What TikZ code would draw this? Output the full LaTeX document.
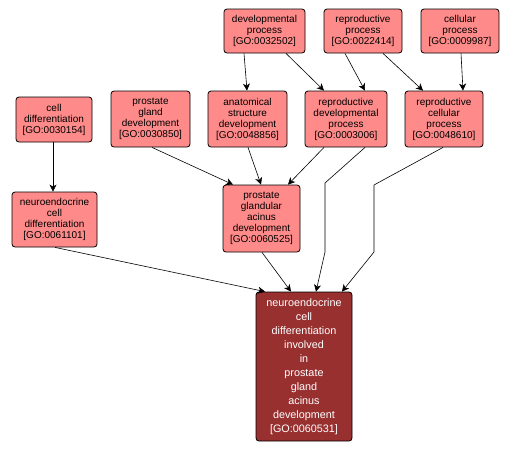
\documentclass[tikz,border=0pt]{standalone}
\usepackage{fontspec}
\setmainfont{Liberation Sans}
\usepackage{tikz}
\usetikzlibrary{arrows.meta}
\definecolor{golight}{RGB}{255,138,138}
\definecolor{godark}{RGB}{153,48,48}
\tikzset{
  term/.style     ={draw=black, rectangle, rounded corners=3pt, align=center, fill=golight, inner sep=0pt, line width=0.8pt, font=\fontsize{10}{11}\selectfont},
  rootterm/.style ={draw=black, rectangle, rounded corners=3pt, align=center, fill=godark, text=white, inner sep=0pt, line width=0.8pt, font=\fontsize{10.8}{14}\selectfont},
  arr/.style      ={-{Stealth[length=7pt,width=7pt,inset=2pt]}, line width=0.6pt},
}

\begin{document}
\begin{tikzpicture}[x=1pt, y=-1pt]
  \useasboundingbox (0,0) rectangle (511,451);

  % top row
  \node[term, minimum width=81, minimum height=44] (dev)   at (264.5,31) {developmental\\process\\{}[GO:0032502]};
  \node[term, minimum width=78, minimum height=44] (repro) at (363,31)   {reproductive\\process\\{}[GO:0022414]};
  \node[term, minimum width=78, minimum height=44] (cellp) at (460,31)   {cellular\\process\\{}[GO:0009987]};

  % second row
  \node[term, minimum width=76, minimum height=45] (celldiff) at (54,119.5) {cell\\differentiation\\{}[GO:0030154]};
  \node[term, minimum width=79, minimum height=56] (pgd) at (150.5,119) {prostate\\gland\\development\\{}[GO:0030850]};
  \node[term, minimum width=79, minimum height=56] (asd) at (247.5,119) {anatomical\\structure\\development\\{}[GO:0048856]};
  \node[term, minimum width=82, minimum height=56] (rdp) at (346,119)   {reproductive\\developmental\\process\\{}[GO:0003006]};
  \node[term, minimum width=78, minimum height=56] (rcp) at (444,119)   {reproductive\\cellular\\process\\{}[GO:0048610]};

  % third row
  \node[term, minimum width=85, minimum height=55] (necd) at (54.5,219.5)  {neuroendocrine\\cell\\differentiation\\{}[GO:0061101]};
  \node[term, minimum width=77, minimum height=67] (pgad) at (261.5,218.5) {prostate\\glandular\\acinus\\development\\{}[GO:0060525]};

  % root term
  \node[rootterm, minimum width=96, minimum height=149] (main) at (304,366.5)
    {neuroendocrine\\cell\\differentiation\\involved\\in\\prostate\\gland\\acinus\\development\\{}[GO:0060531]};

  % bends
  \coordinate (bendA1) at (325,183);
  \coordinate (bendA2) at (325,252);
  \coordinate (bendB1) at (374,185);
  \coordinate (bendB2) at (374,252);

  % edges
  \draw[arr] ([xshift=-20.5]dev.south) -- ([xshift=-0.5]asd.north);
  \draw[arr] ([xshift=21.5]dev.south) -- ([xshift=-22]rdp.north);
  \draw[arr] ([xshift=-18]repro.south) -- ([xshift=19]rdp.north);
  \draw[arr] ([xshift=20]repro.south) -- ([xshift=-21]rcp.north);
  \draw[arr] ([xshift=1]cellp.south) -- ([xshift=19]rcp.north);
  \draw[arr] ([xshift=-1]celldiff.south) -- ([xshift=-1.5]necd.north);
  \draw[arr] ([xshift=1.5]pgd.south) -- ([xshift=-28.5]pgad.north);
  \draw[arr] ([xshift=0.5]asd.south) -- ([xshift=-0.5]pgad.north);
  \draw[arr] ([xshift=-22]rdp.south) -- ([xshift=26.5]pgad.north);
  \draw[arr] ([xshift=19]rdp.south) -- (bendA1) -- (bendA2) -- ([xshift=12]main.north);
  \draw[arr] ([xshift=-1]rcp.south) -- (bendB1) -- (bendB2) -- ([xshift=38]main.north);
  \draw[arr] ([xshift=0.5]necd.south) -- ([xshift=-39]main.north);
  \draw[arr] ([xshift=0.5]pgad.south) -- ([xshift=-13]main.north);
\end{tikzpicture}
\end{document}
